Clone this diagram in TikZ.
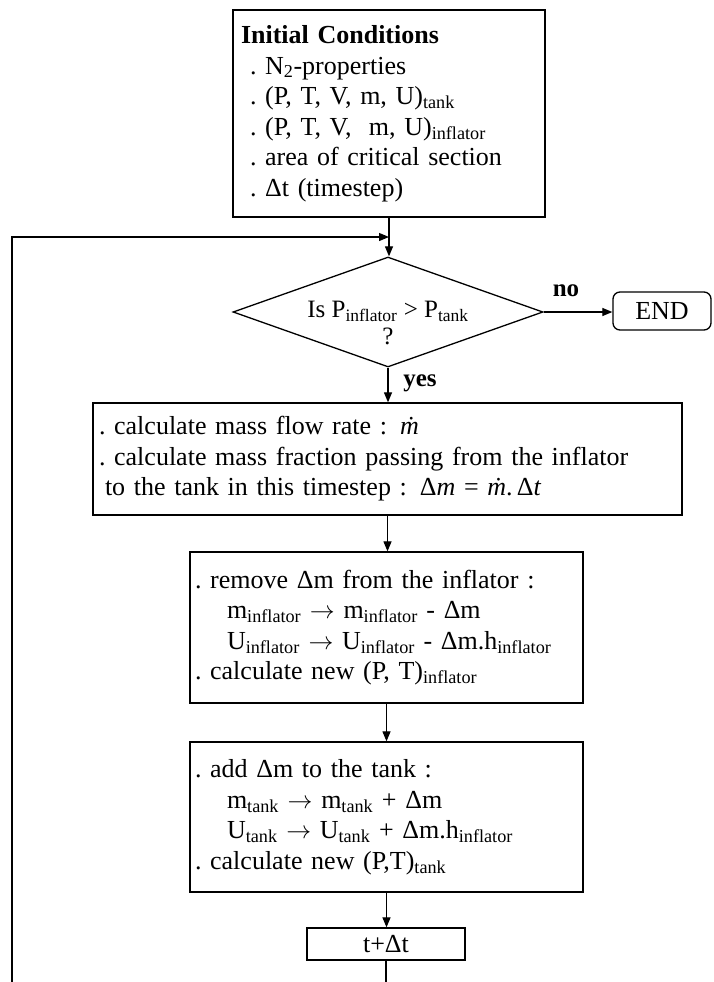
\documentclass[tikz,border=0pt]{standalone}
\usepackage{fontspec}
\setmainfont{Liberation Serif}
\usetikzlibrary{arrows.meta,shapes.geometric}
\newcommand\sbs[1]{\textsubscript{#1}}
\newcommand\toarr{\ $\rightarrow$\ }
\frenchspacing
\begin{document}
\begin{tikzpicture}[x=1pt,y=-1pt,
  font=\fontsize{26}{30.5}\selectfont,
  box/.style={draw, line width=1.3pt, inner sep=0pt, align=left},
  arr/.style={line width=1.2pt, -{Triangle[length=10pt,width=8pt]}},
  ln/.style={line width=1.2pt},
  lbl/.style={font=\fontsize{25}{28}\selectfont\bfseries, inner sep=0pt}]
\useasboundingbox[fill=white] (0,0) rectangle (713,982);

\node[box, minimum width=312, minimum height=207, text width=296] (init) at (389,113.5) {%
\textbf{Initial Conditions}\\
\hspace*{9pt}. N\sbs{2}-properties\\
\hspace*{9pt}. (P, T, V, m, U)\sbs{tank}\\
\hspace*{9pt}. (P, T, V,\,\, m, U)\sbs{inflator}\\
\hspace*{9pt}. area of critical section\\
\hspace*{9pt}. Δt (timestep)};

\node[draw, diamond, line width=1.3pt, inner sep=0pt, minimum width=310, minimum height=110] (dec) at (388,312) {};
\node[align=center, inner sep=0pt, font=\fontsize{25}{27}\selectfont] (dect) at (388,323) {Is P\sbs{inflator} > P\sbs{tank}\\?};

\node[draw, rounded corners=7pt, line width=1.3pt, minimum width=98, minimum height=38, inner sep=0pt] (end) at (662,311) {END};
\node[lbl] (no) at (566,291) {no};
\node[lbl] (yes) at (420,383) {yes};

\node[box, minimum width=589, minimum height=112, text width=577] (calc) at (387.5,459) {%
. calculate mass flow rate :\, \textit{\.{m}}\\
. calculate mass fraction passing from the inflator\\
\hspace*{6pt}to the tank in this timestep :\, Δ\textit{m} = \textit{\.{m}}.\,Δ\textit{t}};

\node[box, minimum width=393, minimum height=151, text width=383] (rem) at (386.5,627.5) {%
. remove Δm from the inflator :\\
\hspace*{32pt}m\sbs{inflator}\toarr m\sbs{inflator} - Δm\\
\hspace*{32pt}U\sbs{inflator}\toarr U\sbs{inflator} - Δm.h\sbs{inflator}\\
. calculate new (P, T)\sbs{inflator}};

\node[box, minimum width=393, minimum height=150, text width=383] (add) at (386.5,817) {%
. add Δm to the tank :\\
\hspace*{32pt}m\sbs{tank}\toarr m\sbs{tank} + Δm\\
\hspace*{32pt}U\sbs{tank}\toarr U\sbs{tank} + Δm.h\sbs{inflator}\\
. calculate new (P,T)\sbs{tank}};

\node[box, align=center, minimum width=158, minimum height=32] (ts) at (386,944) {t+Δt};

\coordinate (lb) at (12,982);
\coordinate (lt) at (12,237);
\coordinate (tb) at (386,982);

\draw[arr] (init.south) -- (init.south |- dec.north);
\draw[arr] (lb) -- (lt) -- (lt -| init.south);
\draw[arr] (dec.east) -- (dec.east -| end.west);
\draw[arr] (dec.south) -- (dec.south |- calc.north);
\draw[arr] (calc.south) -- (calc.south |- rem.north);
\draw[arr] (rem.south) -- (rem.south |- add.north);
\draw[arr] (add.south) -- (add.south |- ts.north);
\draw[ln] (ts.south) -- (tb);
\end{tikzpicture}
\end{document}
